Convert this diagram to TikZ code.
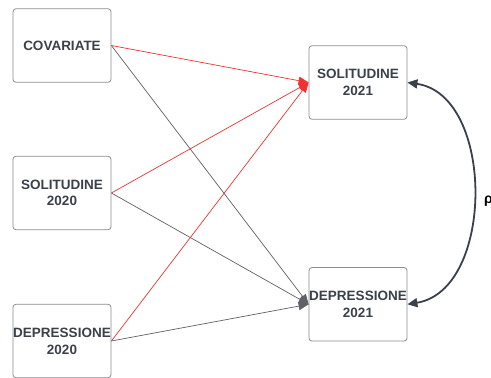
\documentclass[tikz,border=0pt]{standalone}
\usepackage{fontspec}
\setmainfont{Liberation Sans}
\usetikzlibrary{arrows.meta}
\definecolor{boxline}{HTML}{8A8D93}
\definecolor{txt}{HTML}{3B4049}
\definecolor{redline}{HTML}{EE3333}
\definecolor{grayline}{HTML}{5F6167}
\definecolor{curve}{HTML}{3A414A}
\tikzset{
  varbox/.style={draw=boxline, line width=0.8pt, rounded corners=3pt, fill=white,
    minimum width=98pt, minimum height=73.5pt, inner sep=0pt, align=center,
    text=txt, font=\fontsize{13.5}{16.7}\selectfont\bfseries},
  redarrow/.style={draw=redline, line width=0.7pt, -{Triangle[length=10pt,width=8pt]}},
  grayarrow/.style={draw=grayline, line width=0.7pt, -{Triangle[length=10pt,width=8pt]}},
  corrarrow/.style={draw=curve, line width=1.8pt, {Triangle[length=10pt,width=9pt]}-{Triangle[length=10pt,width=9pt]}},
}
\begin{document}
\begin{tikzpicture}[x=1pt,y=-1pt]
\useasboundingbox[fill=white] (0,0) rectangle (491,378);
\node[varbox] (cov) at (62,45.5) {COVARIATE};
\node[varbox] (sol20) at (62,193) {SOLITUDINE\\2020};
\node[varbox] (dep20) at (62,341) {DEPRESSIONE\\2020};
\node[varbox] (sol21) at (358,82.5) {SOLITUDINE\\2021};
\node[varbox] (dep21) at (358,304.3) {DEPRESSIONE\\2021};
\draw[grayarrow] (cov.east) -- (dep21.west);
\draw[grayarrow] (sol20.east) -- (dep21.west);
\draw[grayarrow] (dep20.east) -- (dep21.west);
\draw[redarrow] (cov.east) -- (sol21.west);
\draw[redarrow] (sol20.east) -- (sol21.west);
\draw[redarrow] (dep20.east) -- (sol21.west);
\draw[corrarrow] (sol21.east) .. controls (495,95) and (495,290) .. (dep21.east);
\node[anchor=base west, inner sep=0pt, text=black, font=\fontsize{14}{14}\selectfont\bfseries] (rho) at (484,203.3) {ρ};
\end{tikzpicture}
\end{document}
